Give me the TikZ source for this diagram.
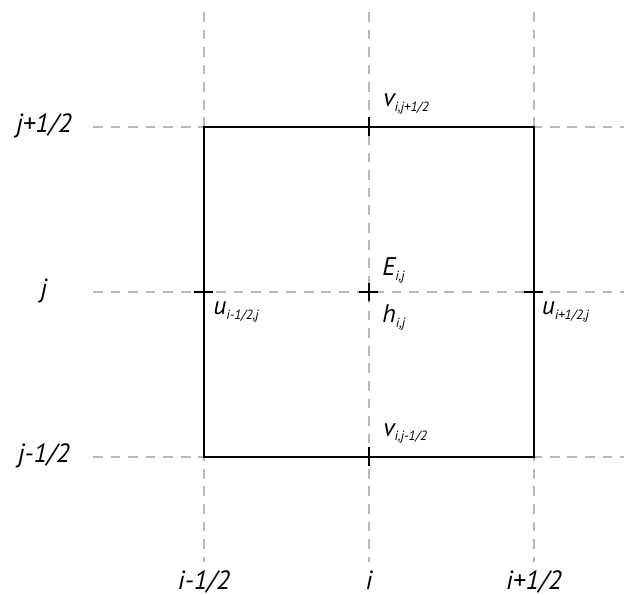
\documentclass[tikz,border=0pt]{standalone}
\usepackage{fontspec}
\setmainfont{PT Sans}
\usepackage{tikz}

\newcommand{\sublab}[2]{#1\raisebox{-0.35ex}{\fontsize{7.6}{9}\selectfont #2}}

\begin{document}
\begin{tikzpicture}[font=\itshape\fontsize{14.5}{17}\selectfont,line cap=butt,
  gridline/.style={gray!55,line width=0.6pt,dash pattern=on 5.5pt off 4.5pt},
  cell/.style={black,line width=1.1pt},
  axlab/.style={anchor=base,inner sep=0pt,font=\itshape\fontsize{15}{18}\selectfont},
  varlab/.style={anchor=base west,inner sep=0pt}]
\useasboundingbox (-7.38,-6.06) rectangle (5.28,5.84);
% dashed grid lines i-1/2, i, i+1/2 and j-1/2, j, j+1/2
\draw[gridline] (-3.3,5.6) -- (-3.3,-5.4);
\draw[gridline] (0,5.6) -- (0,-5.4);
\draw[gridline] (3.3,5.6) -- (3.3,-5.4);
\draw[gridline] (-5.52,3.3) -- (5.1,3.3);
\draw[gridline] (-5.52,0) -- (5.1,0);
\draw[gridline] (-5.52,-3.3) -- (5.1,-3.3);
% cell corners and face points
\coordinate (sw) at (-3.3,-3.3);
\coordinate (ne) at (3.3,3.3);
\coordinate (wface) at (-3.3,0);
\coordinate (eface) at (3.3,0);
\coordinate (nface) at (0,3.3);
\coordinate (sface) at (0,-3.3);
\coordinate (ctr) at (0,0);
\draw[cell] (sw) rectangle (ne);
\draw[cell] (nface) ++(0,-0.19) -- ++(0,0.38);
\draw[cell] (sface) ++(0,-0.19) -- ++(0,0.38);
\draw[cell] (wface) ++(-0.19,0) -- ++(0.38,0);
\draw[cell] (eface) ++(-0.19,0) -- ++(0.38,0);
\draw[cell] (ctr) ++(-0.19,0) -- ++(0.38,0);
\draw[cell] (ctr) ++(0,-0.18) -- ++(0,0.36);
% index labels
\node[axlab] (jtop) at (-6.5,3.18) {j+1/2};
\node[axlab] (jmid) at (-6.5,-0.12) {j};
\node[axlab] (jbot) at (-6.5,-3.42) {j-1/2};
\node[axlab] (ileft) at (-3.3,-5.96) {i-1/2};
\node[axlab] (imid) at (0,-5.96) {i};
\node[axlab] (iright) at (3.3,-5.96) {i+1/2};
% variable labels
\node[varlab] (vtop) at (0.28,3.7) {\sublab{v}{i,j+1/2}};
\node[varlab] (vbot) at (0.28,-2.89) {\sublab{v}{i,j-1/2}};
\node[varlab] (uleft) at (-3.12,-0.46) {\sublab{u}{i-1/2,j}};
\node[varlab] (uright) at (3.45,-0.46) {\sublab{u}{i+1/2,j}};
\node[varlab] (elab) at (0.26,0.32) {\sublab{E}{i,j}};
\node[varlab] (hlab) at (0.26,-0.62) {\sublab{h}{i,j}};
\end{tikzpicture}
\end{document}
